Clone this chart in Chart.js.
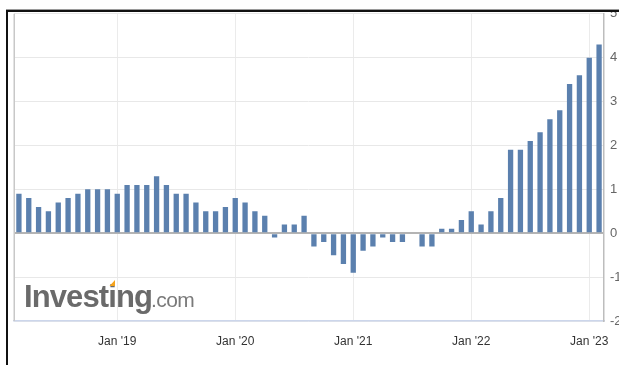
<!DOCTYPE html>
<html>
<head>
<meta charset="utf-8">
<script src="https://cdn.jsdelivr.net/npm/chart.js@4/dist/chart.umd.min.js"></script>
<style>
  html, body { margin: 0; padding: 0; background: #fff; }
  #wrap { position: relative; width: 619px; height: 365px; overflow: hidden; }
  #c { position: absolute; left: 0; top: 0; }
  .mask-top { position: absolute; left: 0; top: 0; width: 619px; height: 10px; background: #fff; }
  .mask-left { position: absolute; left: 0; top: 0; width: 6px; height: 365px; background: #fff; }
  .frame { position: absolute; left: 6px; top: 10px; width: 613px; height: 355px;
           border-top: 2px solid #111; border-left: 2px solid #111; box-sizing: border-box; }
  .frame-shade { position: absolute; left: 6px; top: 9px; width: 613px; height: 1px; background: #9a9a9a; }
</style>
</head>
<body>
<div id="wrap">
  <canvas id="c" width="619" height="365"></canvas>
  <div class="mask-top"></div>
  <div class="mask-left"></div>
  <div class="frame-shade"></div>
  <div class="frame"></div>
</div>
<script>
// Monthly readings, Mar 2018 – Feb 2023
const months = [
  "Mar '18","Apr '18","May '18","Jun '18","Jul '18","Aug '18","Sep '18","Oct '18","Nov '18","Dec '18",
  "Jan '19","Feb '19","Mar '19","Apr '19","May '19","Jun '19","Jul '19","Aug '19","Sep '19","Oct '19","Nov '19","Dec '19",
  "Jan '20","Feb '20","Mar '20","Apr '20","May '20","Jun '20","Jul '20","Aug '20","Sep '20","Oct '20","Nov '20","Dec '20",
  "Jan '21","Feb '21","Mar '21","Apr '21","May '21","Jun '21","Jul '21","Aug '21","Sep '21","Oct '21","Nov '21","Dec '21",
  "Jan '22","Feb '22","Mar '22","Apr '22","May '22","Jun '22","Jul '22","Aug '22","Sep '22","Oct '22","Nov '22","Dec '22",
  "Jan '23","Feb '23"
];
const values = [
  0.9, 0.8, 0.6, 0.5, 0.7, 0.8, 0.9, 1.0, 1.0, 1.0,
  0.9, 1.1, 1.1, 1.1, 1.3, 1.1, 0.9, 0.9, 0.7, 0.5, 0.5, 0.6,
  0.8, 0.7, 0.5, 0.4, -0.1, 0.2, 0.2, 0.4, -0.3, -0.2, -0.5, -0.7,
  -0.9, -0.4, -0.3, -0.1, -0.2, -0.2, 0.0, -0.3, -0.3, 0.1, 0.1, 0.3,
  0.5, 0.2, 0.5, 0.8, 1.9, 1.9, 2.1, 2.3, 2.6, 2.8, 3.4, 3.6,
  4.0, 4.3
];
const yMin = -2;
const yMax = 5;

const isJan = (i) => months[i].startsWith("Jan");

// Plot frame edge and the brand mark in the lower-left corner
const decor = {
  id: 'decor',
  beforeDatasetsDraw(chart) {
    const { ctx, chartArea } = chart;
    ctx.save();
    ctx.strokeStyle = '#c8c8c8';
    ctx.lineWidth = 1.5;
    ctx.beginPath();
    ctx.moveTo(chartArea.left + 0.25, chartArea.top);
    ctx.lineTo(chartArea.left + 0.25, chartArea.bottom);
    ctx.stroke();

    ctx.textBaseline = 'alphabetic';
    ctx.textAlign = 'left';
    ctx.fillStyle = '#6a6a6a';
    ctx.font = 'bold 31px "Liberation Sans", Arial, sans-serif';
    if ('letterSpacing' in ctx) ctx.letterSpacing = '-0.9px';
    ctx.fillText('Investing', 24, 307);
    ctx.fillStyle = '#7a7a7a';
    ctx.font = '21px "Liberation Sans", Arial, sans-serif';
    if ('letterSpacing' in ctx) ctx.letterSpacing = '-0.6px';
    ctx.fillText('.com', 151, 307);
    // orange tip on the "t"
    ctx.fillStyle = '#f5a31c';
    ctx.beginPath();
    ctx.moveTo(109.5, 286);
    ctx.lineTo(115, 280);
    ctx.lineTo(115, 286);
    ctx.closePath();
    ctx.fill();
    ctx.restore();
  }
};

new Chart(document.getElementById('c'), {
  type: 'bar',
  data: {
    labels: months,
    datasets: [{
      data: values,
      backgroundColor: '#5b80ae',
      borderWidth: 0,
      categoryPercentage: 1.0,
      barPercentage: 0.54
    }]
  },
  options: {
    responsive: false,
    devicePixelRatio: 1,
    animation: false,
    layout: { padding: { top: 10, left: 14, right: 0, bottom: 0 } },
    plugins: { legend: { display: false }, tooltip: { enabled: false } },
    scales: {
      x: {
        type: 'category',
        offset: true,
        afterFit(scale) { scale.height = 44; },
        grid: {
          offset: false,
          drawTicks: false,
          color: (c) => (c.index !== undefined && isJan(c.index)) ? '#ebebeb' : 'rgba(0,0,0,0)',
          lineWidth: 1
        },
        border: { display: true, color: '#ccd6eb', width: 1.5 },
        ticks: {
          autoSkip: false,
          maxRotation: 0,
          padding: 13,
          color: '#333',
          font: { family: '"Liberation Sans", Arial, sans-serif', size: 12 },
          callback: (v, i) => isJan(i) ? months[i] : ''
        }
      },
      y: {
        position: 'right',
        min: yMin,
        max: yMax,
        afterFit(scale) { scale.width = 15; },
        grid: {
          drawTicks: false,
          color: (c) => c.tick && c.tick.value === 0 ? '#b4b4b4' : '#e8e8e8',
          lineWidth: (c) => c.tick && c.tick.value === 0 ? 2 : 1
        },
        border: { display: true, color: '#bdbdbd', width: 1.5 },
        ticks: {
          stepSize: 1,
          padding: 6,
          color: '#666',
          font: { family: '"Liberation Sans", Arial, sans-serif', size: 13 }
        }
      }
    }
  },
  plugins: [decor]
});
</script>
</body>
</html>
